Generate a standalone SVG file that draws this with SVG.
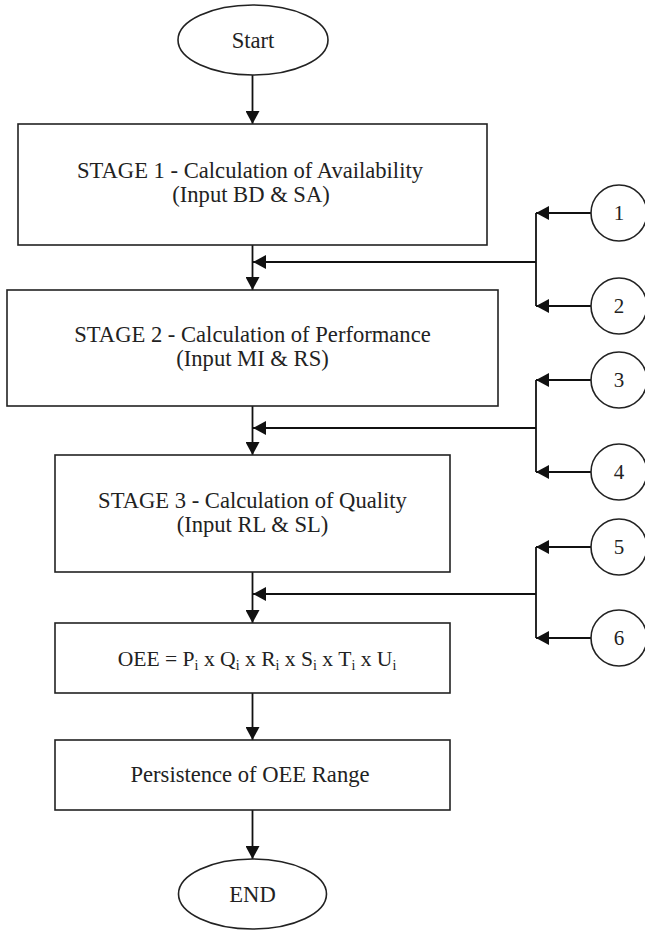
<svg xmlns="http://www.w3.org/2000/svg" width="645" height="930" viewBox="0 0 645 930">
  <defs>
    <marker id="arr" markerUnits="userSpaceOnUse" markerWidth="14" markerHeight="14" refX="13" refY="7" orient="auto">
      <path d="M0,0 L13,7 L0,14 Z" fill="#111"/>
    </marker>
    <style>
      .shape { fill: #fff; stroke: #222; stroke-width: 1.6; }
      .line { fill: none; stroke: #111; stroke-width: 1.8; }
      .t { font-family: "Liberation Serif", "Times New Roman", serif; font-size: 22.6px; fill: #222; text-anchor: middle; }
      .n { font-family: "Liberation Serif", "Times New Roman", serif; font-size: 21px; fill: #222; text-anchor: middle; }
      .sub { font-size: 14px; }
    </style>
  </defs>
  <rect width="645" height="930" fill="#fff"/>

  <g id="connectors">
    <line class="line" x1="252.5" y1="75" x2="252.5" y2="124" marker-end="url(#arr)"/>
    <line class="line" x1="252.5" y1="245" x2="252.5" y2="290" marker-end="url(#arr)"/>
    <line class="line" x1="252.5" y1="406" x2="252.5" y2="455" marker-end="url(#arr)"/>
    <line class="line" x1="252.5" y1="572" x2="252.5" y2="623" marker-end="url(#arr)"/>
    <line class="line" x1="252.5" y1="693" x2="252.5" y2="740" marker-end="url(#arr)"/>
    <line class="line" x1="252.5" y1="810" x2="252.5" y2="859" marker-end="url(#arr)"/>

    <line class="line" x1="536" y1="213" x2="536" y2="306"/>
    <line class="line" x1="536" y1="262" x2="253" y2="262" marker-end="url(#arr)"/>
    <line class="line" x1="591" y1="213" x2="536" y2="213" marker-end="url(#arr)"/>
    <line class="line" x1="591" y1="306" x2="536" y2="306" marker-end="url(#arr)"/>

    <line class="line" x1="536" y1="380" x2="536" y2="472"/>
    <line class="line" x1="536" y1="428" x2="253" y2="428" marker-end="url(#arr)"/>
    <line class="line" x1="591" y1="380" x2="536" y2="380" marker-end="url(#arr)"/>
    <line class="line" x1="591" y1="472" x2="536" y2="472" marker-end="url(#arr)"/>

    <line class="line" x1="536" y1="547" x2="536" y2="638"/>
    <line class="line" x1="536" y1="594" x2="253" y2="594" marker-end="url(#arr)"/>
    <line class="line" x1="591" y1="547" x2="536" y2="547" marker-end="url(#arr)"/>
    <line class="line" x1="591" y1="638" x2="536" y2="638" marker-end="url(#arr)"/>
  </g>

  <g id="start">
    <ellipse class="shape" cx="253" cy="40" rx="75" ry="35"/>
    <text class="t" x="253" y="48">Start</text>
  </g>

  <g id="stage1">
    <rect class="shape" x="18" y="124" width="469" height="121"/>
    <text class="t" x="250" y="178">STAGE 1 - Calculation of Availability</text>
    <text class="t" x="251" y="202">(Input BD &amp; SA)</text>
  </g>

  <g id="stage2">
    <rect class="shape" x="7" y="290" width="491" height="116"/>
    <text class="t" x="252.5" y="342">STAGE 2 - Calculation of Performance</text>
    <text class="t" x="252.5" y="366">(Input MI &amp; RS)</text>
  </g>

  <g id="stage3">
    <rect class="shape" x="55" y="455" width="395" height="117"/>
    <text class="t" x="252.5" y="508">STAGE 3 - Calculation of Quality</text>
    <text class="t" x="252.5" y="532">(Input RL &amp; SL)</text>
  </g>

  <g id="oee">
    <rect class="shape" x="55" y="623" width="395" height="70"/>
    <text class="t" x="257" y="666" style="font-size:21.6px">OEE = P<tspan class="sub" dy="4">i</tspan><tspan dy="-4"> x Q</tspan><tspan class="sub" dy="4">i</tspan><tspan dy="-4"> x R</tspan><tspan class="sub" dy="4">i</tspan><tspan dy="-4"> x S</tspan><tspan class="sub" dy="4">i</tspan><tspan dy="-4"> x T</tspan><tspan class="sub" dy="4">i</tspan><tspan dy="-4"> x U</tspan><tspan class="sub" dy="4">i</tspan></text>
  </g>

  <g id="persistence">
    <rect class="shape" x="55" y="740" width="395" height="70"/>
    <text class="t" x="250" y="782">Persistence of OEE Range</text>
  </g>

  <g id="end">
    <ellipse class="shape" cx="252.5" cy="894" rx="74" ry="35"/>
    <text class="t" x="252.5" y="902">END</text>
  </g>

  <g id="c1"><circle class="shape" cx="619" cy="213" r="28"/><text class="n" x="619" y="220">1</text></g>
  <g id="c2"><circle class="shape" cx="619" cy="306" r="28"/><text class="n" x="619" y="313">2</text></g>
  <g id="c3"><circle class="shape" cx="619" cy="380" r="28"/><text class="n" x="619" y="387">3</text></g>
  <g id="c4"><circle class="shape" cx="619" cy="472" r="28"/><text class="n" x="619" y="479">4</text></g>
  <g id="c5"><circle class="shape" cx="619" cy="547" r="28"/><text class="n" x="619" y="554">5</text></g>
  <g id="c6"><circle class="shape" cx="619" cy="638" r="28"/><text class="n" x="619" y="645">6</text></g>
</svg>
